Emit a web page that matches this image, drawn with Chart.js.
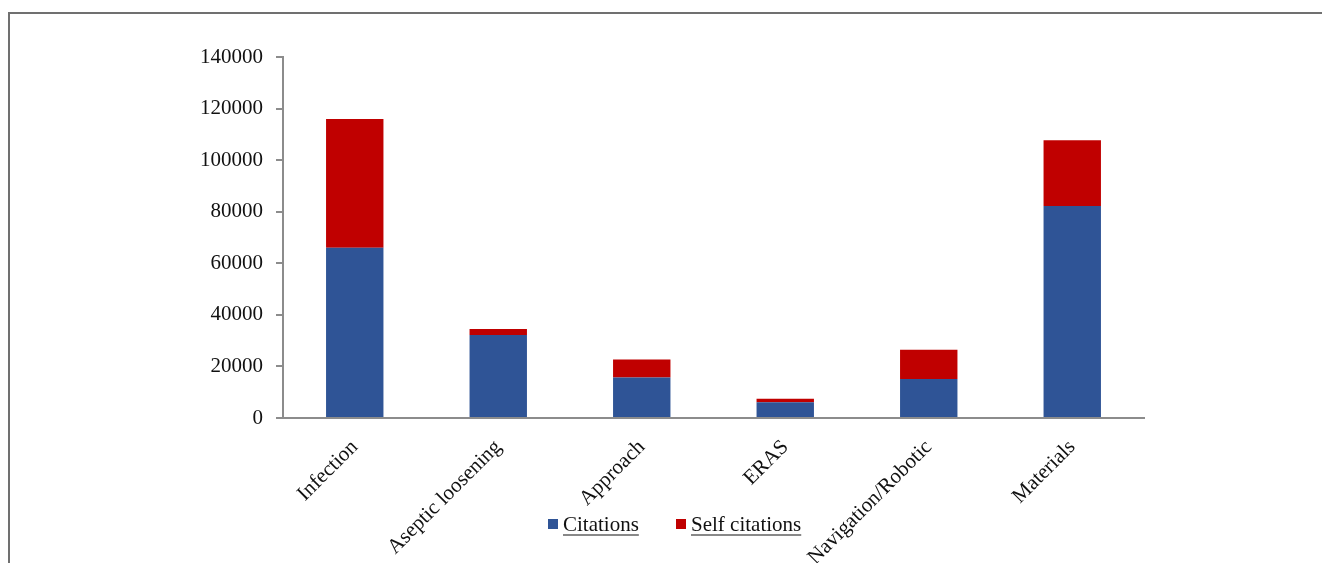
<!DOCTYPE html>
<html>
<head>
<meta charset="utf-8">
<script src="https://cdn.jsdelivr.net/npm/chart.js@4/dist/chart.umd.min.js"></script>
<style>
  html, body { margin: 0; padding: 0; background: #fff; overflow: hidden; }
  #wrap { position: relative; width: 1322px; height: 563px; }
  #frame { position: absolute; left: 8px; top: 12px; right: 0; bottom: -5px;
           border-top: 2px solid #707070; border-left: 2px solid #707070; }
  #box { position: absolute; left: 0; top: 0; width: 1322px; height: 563px; }
  .lg { position: absolute; top: 514px; font-family: "Liberation Serif", "Times New Roman", serif;
        font-size: 21px; line-height: 21px; color: #111; white-space: nowrap; }
  .lg i { display: inline-block; width: 10px; height: 10px; margin-right: 5px; vertical-align: 2px; }
  .lg u { text-decoration-color: #888; text-underline-offset: 3px; }
</style>
</head>
<body>
<div id="wrap">
  <div id="frame"></div>
  <div id="box"><canvas id="c"></canvas></div>
</div>
<script>
const categories = ["Infection", "Aseptic loosening", "Approach", "ERAS", "Navigation/Robotic", "Materials"];
const citations = [66000, 32200, 15700, 6100, 15100, 82200];
const selfCitations = [50000, 2300, 7000, 1400, 11400, 25500];
const seriesNames = ["Citations", "Self citations"];
const seriesColors = ["#2f5496", "#c00000"];
const yTicks = [0, 20000, 40000, 60000, 80000, 100000, 120000, 140000];

const serif = "'Liberation Serif', 'Times New Roman', serif";

new Chart(document.getElementById('c'), {
  type: 'bar',
  data: {
    labels: categories,
    datasets: [
      { label: seriesNames[0], data: citations, backgroundColor: seriesColors[0], borderWidth: 0 },
      { label: seriesNames[1], data: selfCitations, backgroundColor: seriesColors[1], borderWidth: 0 }
    ]
  },
  options: {
    responsive: true,
    maintainAspectRatio: false,
    animation: false,
    datasets: { bar: { categoryPercentage: 1.0, barPercentage: 0.4 } },
    layout: { padding: { top: 57, right: 178, left: 0, bottom: 0 } },
    plugins: { legend: { display: false }, tooltip: { enabled: false } },
    scales: {
      x: {
        stacked: true,
        grid: { display: false, drawTicks: false },
        border: { display: true, color: '#8c8c8c', width: 2 },
        ticks: { color: '#111', font: { family: serif, size: 21 }, minRotation: 45, maxRotation: 45, padding: 17, autoSkip: false },
        afterFit: (s) => { s.height = 145; }
      },
      y: {
        stacked: true,
        min: 0, max: 140000,
        afterBuildTicks: (s) => { s.ticks = yTicks.map(v => ({ value: v })); },
        grid: { drawOnChartArea: false, drawTicks: true, tickLength: 7, color: '#8c8c8c', lineWidth: 2 },
        border: { display: true, color: '#8c8c8c', width: 2 },
        ticks: { color: '#111', font: { family: serif, size: 21 }, padding: 13, callback: (v) => String(v) },
        afterFit: (s) => { s.width = 283; }
      }
    }
  }
});

const wrap = document.getElementById('wrap');
const legendLeft = [548, 676];
seriesNames.forEach((n, i) => {
  const d = document.createElement('div');
  d.className = 'lg';
  d.style.left = legendLeft[i] + 'px';
  d.innerHTML = '<i style="background:' + seriesColors[i] + '"></i><u>' + n + '</u>';
  wrap.appendChild(d);
});
</script>
</body>
</html>
